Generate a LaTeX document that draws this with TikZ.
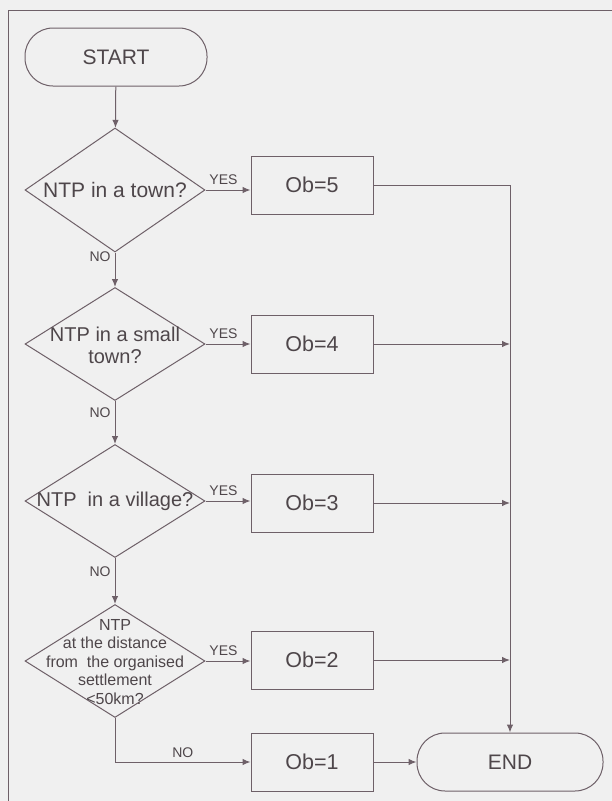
\documentclass[tikz,border=0pt]{standalone}
\usepackage{fontspec}
\setmainfont{Liberation Sans}
\usetikzlibrary{arrows.meta,shapes.geometric,positioning,calc}

\definecolor{inkline}{RGB}{110,96,104}
\definecolor{inktext}{RGB}{78,70,74}
\definecolor{paper}{RGB}{240,240,240}

\begin{document}
\begin{tikzpicture}[x=1pt,y=-1pt,
    every node/.style={text=inktext},
    line/.style={draw=inkline, line width=1pt},
    flow/.style={line, -{Latex[length=8pt,width=6.5pt]}},
    terminal/.style={line, rectangle, rounded corners=28pt, minimum width=182pt, minimum height=58pt, font=\fontsize{21}{24}\selectfont},
    result/.style={line, rectangle, minimum width=122pt, minimum height=58pt, font=\fontsize{21.5}{24}\selectfont},
    decision/.style={line, diamond, minimum width=180pt, minimum height=113pt, inner sep=0pt},
    asktext/.style={align=center, inner sep=0pt, font=\fontsize{21}{23}\selectfont},
    tag/.style={font=\fontsize{14}{16}\selectfont, inner sep=1pt}]

    % page
    \fill[paper] (0,0) rectangle (612,801);
    \useasboundingbox (0,0) rectangle (612,801);
    \draw[line] (612,10) -- (8,10) -- (8,801);

    % left column
    \node[terminal] (start) at (116,57) {START};
    \node[decision, minimum height=124pt] (town) at (115,190) {};
    \node[asktext] at (town.center) {NTP in a town?};
    \node[decision] (small) at (115,344) {};
    \node[asktext, font=\fontsize{20}{22}\selectfont] at ($(small.center)+(0,1)$) {NTP in a small\\town?};
    \node[decision] (village) at (115,501) {};
    \node[asktext, font=\fontsize{20}{23}\selectfont] at (village.center) {NTP \ in a village?};
    \node[decision] (dist) at (115,661) {};
    \node[asktext, font=\fontsize{16}{18.5}\selectfont] at ($(dist.center)+(0,1)$) {NTP\\at the distance\\from \ the organised\\settlement\\<50km?};

    % results
    \node[result] (ob5) at (312,185) {Ob=5};
    \node[result] (ob4) at (312,344) {Ob=4};
    \node[result] (ob3) at (312,503) {Ob=3};
    \node[result] (ob2) at (312,660) {Ob=2};
    \node[result] (ob1) at (312,762) {Ob=1};
    \node[terminal, minimum width=186pt, minimum height=58pt] (stop) at (510,762) {END};

    % yes / no
    \draw[flow] (start) -- (town);
    \draw[flow] (town.east) -- node[tag, pos=0.4, above=4pt] {YES} (town.east -| ob5.west);
    \draw[flow] (town.south) -- (small.north);
    \node[tag] at (100,257) {NO};
    \draw[flow] (small.east) -- node[tag, pos=0.4, above=4pt] {YES} (ob4.west);
    \draw[flow] (small.south) -- (village.north);
    \node[tag] at (100,413) {NO};
    \draw[flow] (village.east) -- node[tag, pos=0.4, above=4pt] {YES} (village.east -| ob3.west);
    \draw[flow] (village.south) -- (dist.north);
    \node[tag] at (100,572) {NO};
    \draw[flow] (dist.east) -- node[tag, pos=0.4, above=4pt] {YES} (dist.east -| ob2.west);
    \draw[flow] (dist.south) |- node[tag, pos=0.75, above=3pt] {NO} (ob1.west);

    % to END
    \draw[flow] (ob5.east) -| (stop.north);
    \draw[flow] (ob4.east) -- (ob4.east -| stop.north);
    \draw[flow] (ob3.east) -- (ob3.east -| stop.north);
    \draw[flow] (ob2.east) -- (ob2.east -| stop.north);
    \draw[flow] (ob1.east) -- (stop.west);

\end{tikzpicture}
\end{document}
